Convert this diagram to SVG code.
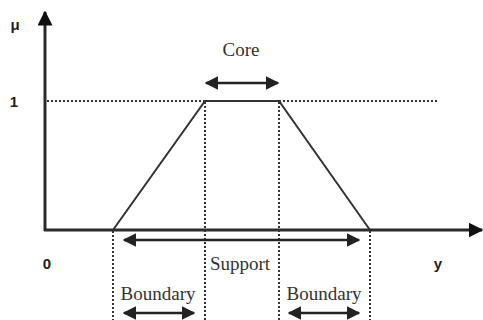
<svg xmlns="http://www.w3.org/2000/svg" width="483" height="320" viewBox="0 0 483 320">
<style>
.ax{stroke:#2b2b2b;stroke-width:3;fill:none}
.tr{stroke:#333;stroke-width:2;fill:none}
.dot{stroke:#333;stroke-width:2;stroke-dasharray:2 2;fill:none}
.arr{stroke:#222;stroke-width:2.5;fill:none}
.lab{font-family:"Liberation Sans",Arial,sans-serif;font-weight:bold;font-size:15px;fill:#222}
.ser{font-family:"Liberation Serif","Times New Roman",serif;font-size:19px;fill:#333}
</style>
<defs>
<marker id="ah" viewBox="0 0 10 10" refX="9" refY="5" markerWidth="5.5" markerHeight="5.5" markerUnits="strokeWidth" orient="auto-start-reverse">
<path d="M0,0 L10,5 L0,10 z" fill="#222"/>
</marker>
<marker id="axh" viewBox="0 0 10 10" refX="9" refY="5" markerWidth="5" markerHeight="5" markerUnits="strokeWidth" orient="auto">
<path d="M0,0 L10,5 L0,10 z" fill="#111"/>
</marker>
</defs>
<g id="axes">
<line class="ax" x1="45" y1="231" x2="45" y2="12" marker-end="url(#axh)"/>
<line class="ax" x1="44" y1="230" x2="482" y2="230" marker-end="url(#axh)"/>
</g>
<g id="guides">
<line class="dot" x1="47" y1="101" x2="437" y2="101"/>
<line class="dot" x1="113" y1="231" x2="113" y2="320"/>
<line class="dot" x1="205" y1="102" x2="205" y2="320"/>
<line class="dot" x1="279" y1="102" x2="279" y2="320"/>
<line class="dot" x1="370" y1="231" x2="370" y2="320"/>
</g>
<g id="trapezoid">
<polyline class="tr" points="113,230 205,101 279,101 370,230"/>
</g>
<g id="connectors">
<line class="arr" x1="206" y1="83" x2="278" y2="83" marker-start="url(#ah)" marker-end="url(#ah)"/>
<line class="arr" x1="124" y1="240" x2="359" y2="240" marker-start="url(#ah)" marker-end="url(#ah)"/>
<line class="arr" x1="124" y1="313" x2="194" y2="313" marker-start="url(#ah)" marker-end="url(#ah)"/>
<line class="arr" x1="289" y1="313" x2="359" y2="313" marker-start="url(#ah)" marker-end="url(#ah)"/>
</g>
<g id="labels">
<text class="lab" x="15" y="30" text-anchor="middle">μ</text>
<text class="lab" x="14" y="107" text-anchor="middle">1</text>
<text class="lab" x="47" y="269" text-anchor="middle">0</text>
<text class="lab" x="438" y="269" text-anchor="middle">y</text>
<text class="ser" x="241" y="56" text-anchor="middle">Core</text>
<text class="ser" x="240" y="270" text-anchor="middle">Support</text>
<text class="ser" x="158" y="300" text-anchor="middle">Boundary</text>
<text class="ser" x="324" y="300" text-anchor="middle">Boundary</text>
</g>
</svg>
